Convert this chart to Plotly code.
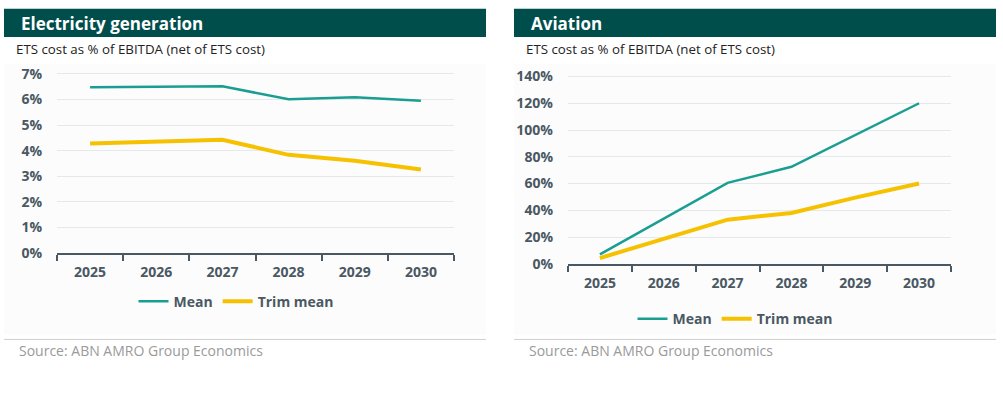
import plotly.graph_objects as go

years = ["2025", "2026", "2027", "2028", "2029", "2030"]

elec_mean = [6.48, 6.50, 6.52, 6.01, 6.09, 5.95]
elec_trim = [4.28, 4.35, 4.43, 3.84, 3.61, 3.27]

avia_mean = [7.0, 34.0, 60.5, 72.5, 96.0, 120.0]
avia_trim = [4.3, 18.8, 33.0, 38.0, 49.5, 60.0]

elec_ticks = [0, 1, 2, 3, 4, 5, 6, 7]
avia_ticks = [0, 20, 40, 60, 80, 100, 120, 140]

W, H = 1003, 394
TEAL = "#1A9E92"
YELLOW = "#F6C100"
DARK = "#004E4C"
AXC = "#4A5863"
FONT = "Open Sans"

def px(x):
    return x / W

def py(y):
    return 1 - y / H

fig = go.Figure()

fig.add_trace(go.Scatter(x=years, y=elec_mean, mode="lines", name="Mean",
                         line=dict(color=TEAL, width=2.5), xaxis="x", yaxis="y", legend="legend"))
fig.add_trace(go.Scatter(x=years, y=elec_trim, mode="lines", name="Trim mean",
                         line=dict(color=YELLOW, width=4), xaxis="x", yaxis="y", legend="legend"))
fig.add_trace(go.Scatter(x=years, y=avia_mean, mode="lines", name="Mean",
                         line=dict(color=TEAL, width=2.5), xaxis="x2", yaxis="y2", legend="legend2"))
fig.add_trace(go.Scatter(x=years, y=avia_trim, mode="lines", name="Trim mean",
                         line=dict(color=YELLOW, width=4), xaxis="x2", yaxis="y2", legend="legend2"))

xcommon = dict(type="category", range=[-0.5, 5.5], showgrid=False, showline=True,
               linecolor=AXC, linewidth=2, ticks="outside", tickson="boundaries",
               ticklen=6, tickwidth=2, tickcolor=AXC,
               tickfont=dict(family=FONT, size=14, color=AXC, weight="bold"),
               ticklabelstandoff=5, fixedrange=True)
ycommon = dict(showgrid=True, gridcolor="#E6E9EC", gridwidth=1, zeroline=False,
               showline=False, ticks="", ticklabelstandoff=14, fixedrange=True,
               tickfont=dict(family=FONT, size=14, color=AXC, weight="bold"))

# Left panel: 0% at y=258, 26.4 px per 1%
e_top = 258 - 7.3 * 26.4
fig.update_layout(
    xaxis=dict(domain=[px(57), px(454)], anchor="y", **xcommon),
    yaxis=dict(domain=[py(258), py(e_top)], range=[0, 7.3], anchor="x",
               tickvals=elec_ticks, ticktext=[f"{v}%" for v in elec_ticks], **ycommon),
)
# Right panel: 0% at y=269, 1.38 px per 1%
a_top = 269 - 145 * 1.38
fig.update_layout(
    xaxis2=dict(domain=[px(568), px(951)], anchor="y2", **xcommon),
    yaxis2=dict(domain=[py(269), py(a_top)], range=[0, 145], anchor="x2",
                tickvals=avia_ticks, ticktext=[f"{v}%" for v in avia_ticks], **ycommon),
)

legend_common = dict(orientation="h", xanchor="center", yanchor="middle",
                     font=dict(family=FONT, size=14, color=AXC, weight="bold"),
                     bgcolor="rgba(0,0,0,0)", itemwidth=30, tracegroupgap=0)
fig.update_layout(
    legend=dict(x=px(236), y=py(308), **legend_common),
    legend2=dict(x=px(735), y=py(326), **legend_common),
)

shapes = []
annotations = []
panels = [
    (4, 486, "Electricity generation"),
    (514, 996, "Aviation"),
]
for x0, x1, title in panels:
    shapes.append(dict(type="rect", xref="paper", yref="paper",
                       x0=px(x0), x1=px(x1), y0=py(342), y1=py(63),
                       fillcolor="#FCFCFC", line=dict(width=0), layer="below"))
    shapes.append(dict(type="rect", xref="paper", yref="paper",
                       x0=px(x0), x1=px(x1), y0=py(35), y1=py(6),
                       fillcolor=DARK, line=dict(width=0), layer="below"))
    shapes.append(dict(type="line", xref="paper", yref="paper",
                       x0=px(x0), x1=px(x1), y0=py(347), y1=py(347),
                       line=dict(color="#D0D0D0", width=1)))
    annotations.append(dict(text=title, xref="paper", yref="paper",
                            x=px(x0 + 15), y=py(21), xanchor="left", yanchor="middle",
                            showarrow=False,
                            font=dict(family=FONT, size=17, color="white", weight="bold")))
    annotations.append(dict(text="ETS cost as % of EBITDA (net of ETS cost)", xref="paper", yref="paper",
                            x=px(x0 + 10), y=py(47), xanchor="left", yanchor="middle",
                            showarrow=False,
                            font=dict(family=FONT, size=13.3, color="#222222")))
    annotations.append(dict(text="Source: ABN AMRO Group Economics", xref="paper", yref="paper",
                            x=px(x0 + 13), y=py(358), xanchor="left", yanchor="middle",
                            showarrow=False,
                            font=dict(family=FONT, size=14, color="#9A9A9A")))

fig.update_layout(
    width=W, height=H,
    margin=dict(l=0, r=0, t=0, b=0),
    paper_bgcolor="white", plot_bgcolor="rgba(0,0,0,0)",
    shapes=shapes, annotations=annotations,
    font=dict(family=FONT),
)

fig.write_html(
    "out.html",
    config={"displayModeBar": False, "responsive": False},
    post_script=(
        "document.body.style.margin='0';"
        "document.body.style.overflow='hidden';"
        "document.documentElement.style.overflow='hidden';"
    ),
)
